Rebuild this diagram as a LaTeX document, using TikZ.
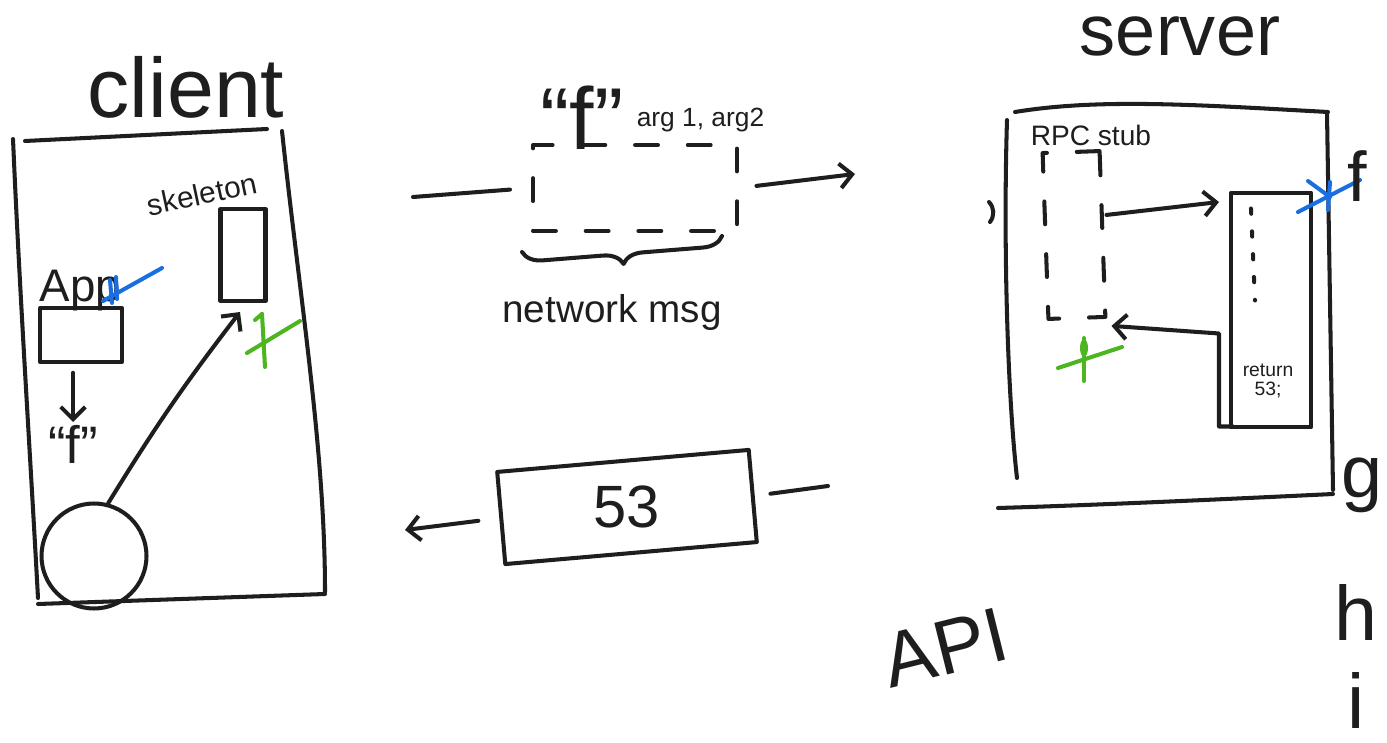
\documentclass[tikz,border=0pt]{standalone}
\usepackage{fontspec}
\setmainfont{Liberation Sans}
\usetikzlibrary{arrows.meta,positioning,calc,decorations.pathreplacing}
\definecolor{pen}{HTML}{1E1E1E}
\definecolor{penblue}{HTML}{1A6FE0}
\definecolor{pengreen}{HTML}{4DB51F}
\newcommand{\fsz}[1]{\fontsize{#1}{#1}\selectfont}

\begin{document}
\begin{tikzpicture}[x=0.02cm,y=-0.02cm,color=pen,
  every path/.style={line width=2.3pt,line cap=round,line join=round},
  >={Straight Barb[length=7pt,width=14pt]},
  txt/.style={inner sep=1pt},
  box/.style={draw,inner sep=0pt},
  dsh/.style={dash pattern=on 13pt off 17pt},
  dotmarks/.style={dash pattern=on 3pt off 10pt}]
\useasboundingbox (0,0) rectangle (1387,743);

% client side
\node[txt,font=\fsz{48},anchor=base] (client) at (186,118) {client};
\draw (25,141) -- (267,129);
\draw (13,139) .. controls (20,300) and (30,450) .. (38,598);
\draw (282,131) .. controls (300,300) and (325,450) .. (325,592);
\draw (38,604) -- (325,594);

\node[box,minimum width=1.64cm,minimum height=1.08cm] (app) at (81,335) {};
\node[txt,font=\fsz{26},anchor=base west] (applbl) at (36,302) {App};
\node[box,minimum width=0.9cm,minimum height=1.84cm] (skel) at (243,255) {};
\node[txt,font=\fsz{17},rotate=12] (skellbl) at (202,194) {skeleton};
\node[txt,font=\fsz{30},anchor=north] (fq) at (73,422) {``f''};
\draw[->,shorten <=5pt] (app.south -| fq) -- (fq.north);
\node[draw,circle,minimum size=2.1cm,inner sep=0pt] (ball) at (94,556) {};
\draw[->] (ball.75) to[bend left=3] ($(skel.south)+(-3,9)$);

% marks
\draw[penblue] (103,301) -- (162,268);
\draw[penblue] (110,280) -- (112,303);
\draw[penblue] (116,277) -- (117,299);
\draw[pengreen] (247,353) -- (300,321);
\draw[pengreen] (262,314) -- (265,367);
\draw[pengreen] (255,320) -- (262,314);

% network message
\node[txt,font=\fsz{50},anchor=base] (fname) at (582,150) {``f''};
\node[txt,font=\fsz{15},anchor=base west] (args) at (633,127) {arg 1, arg2};
\node[box,dsh,minimum width=4.08cm,minimum height=1.72cm] (msg) at (635,188) {};
\coordinate (msgin) at (413,197);
\coordinate (msgout) at (855,174);
\draw[shorten >=12pt] (msgin) -- (msg.west);
\draw[->,shorten <=10pt] (msg.east) -- (msgout);
\draw[decorate,decoration={brace,amplitude=0.4cm}] (722,236) -- (522,252);
\node[txt,font=\fsz{22},anchor=base] (netlbl) at (612,323) {network msg};

% reply
\node[box,minimum width=5.05cm,minimum height=1.85cm,rotate=5] (ret) at (627,507) {};
\node[txt,font=\fsz{34}] (retval) at (ret) {53};
\coordinate (retin) at (828,486);
\coordinate (retout) at (405,530);
\draw[shorten >=9pt] (retin) -- (ret.east);
\draw[->,shorten <=12pt] (ret.west) -- (retout);

% server side
\node[txt,font=\fsz{41},anchor=base] (server) at (1180,56) {server};
\draw (1015,112) .. controls (1100,98) and (1200,105) .. (1328,112);
\draw (1007,120) .. controls (1003,250) and (1008,400) .. (1017,478);
\draw (1327,113) -- (1333,490);
\draw (998,508) .. controls (1100,505) and (1250,498) .. (1333,494);
\draw (989,202) to[bend left=40] (990,222);

\node[txt,font=\fsz{16},anchor=base west] (rpc) at (1027,146) {RPC stub};
\node[box,dsh,minimum width=1.14cm,minimum height=3.32cm,rotate=2] (stub) at (1074,235) {};
\node[box,minimum width=1.6cm,minimum height=4.7cm] (func) at (1271,310) {};
\draw[dotmarks] ($(func.north west)+(22,18)$) -- ($(func.north west)+(26,110)$);
\node[txt,font=\fsz{11},align=center] (retcode) at (1268,381) {return\\53;};
\draw[->] ($(stub.east)+(2,-19)$) -- ($(func.west)+(-10,-108)$);
\draw[->] ($(func.south west)+(4,-3)$) -- ++(-14,0) -- ++(0,-93) -- ($(stub.south east)+(4,7)$);

\draw[pengreen] (1058,368) -- (1122,347);
\draw[pengreen] (1084,338) -- (1084,381);
\fill[pengreen] (1084,348) ellipse [x radius=0.08cm,y radius=0.18cm];
\draw[penblue] (1298,212) -- (1360,180);
\draw[penblue] (1308,181) -- (1330,197);
\draw[penblue] (1330,182) -- (1328,210);

\node[txt,font=\fsz{40},anchor=base] (ff) at (1357,202) {f};
\node[txt,font=\fsz{42},anchor=base] (fg) at (1362,497) {g};
\node[txt,font=\fsz{44},anchor=base] (fh) at (1356,640) {h};
\node[txt,font=\fsz{44},anchor=base] (fi) at (1356,728) {i};
\node[txt,font=\fsz{44},rotate=14] (api) at (945,648) {API};
\end{tikzpicture}
\end{document}
